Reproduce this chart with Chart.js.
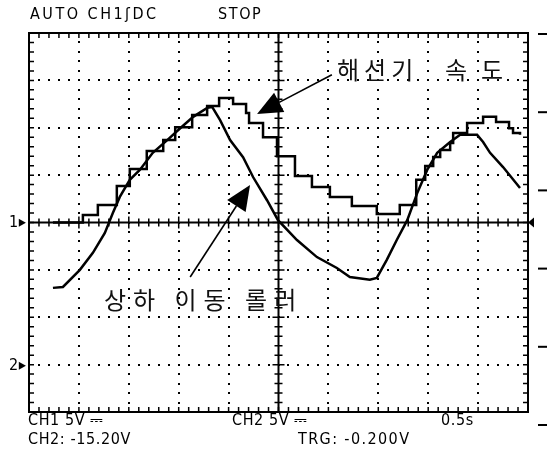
<!DOCTYPE html>
<html>
<head>
<meta charset="utf-8">
<script src="https://cdn.jsdelivr.net/npm/chart.js@4.4.0/dist/chart.umd.min.js"></script>
<style>
  body { margin: 0; background: #fff; }
  #wrap { position: relative; width: 550px; height: 462px; }
  .lbl { position: absolute; white-space: pre; color: #000; line-height: 1; letter-spacing: 0.6px;
         font-family: "DejaVu Sans Condensed", "DejaVu Sans", sans-serif; font-size: 16px; }
  .kr { position: absolute; white-space: pre; color: #111; line-height: 1;
        font-family: "Noto Sans CJK KR", sans-serif; font-size: 24px; letter-spacing: 7px; }
</style>
</head>
<body>
<div id="wrap">
  <canvas id="scope" width="550" height="462"></canvas>
  <div class="lbl" style="left:30px;top:6px;letter-spacing:2.5px">AUTO CH1ʃDC</div>
  <div class="lbl" style="left:218px;top:6px;letter-spacing:1.6px">STOP</div>
  <div class="lbl" style="left:28px;top:412px">CH1 5V ⎓</div>
  <div class="lbl" style="left:232px;top:412px">CH2 5V ⎓</div>
  <div class="lbl" style="left:441px;top:412px">0.5s</div>
  <div class="lbl" style="left:28px;top:431px">CH2: -15.20V</div>
  <div class="lbl" style="left:298px;top:431px;letter-spacing:1.4px">TRG: -0.200V</div>
  <div class="lbl" style="left:9px;top:214px">1▸</div>
  <div class="lbl" style="left:9px;top:357px">2▸</div>
  <div class="kr" style="left:337px;top:57px;letter-spacing:5px">해선기</div>
  <div class="kr" style="left:445px;top:57px;letter-spacing:14px">속도</div>
  <div class="kr" style="left:104px;top:287px">상하 이동 롤러</div>
</div>
<script>
// grid is 10 x 8 divisions, values are in divisions
const speedX = [0.48, 1.08, 1.38, 1.76, 2.02, 2.36, 2.69, 2.93, 3.27, 3.57, 3.81, 4.09, 4.35, 4.41, 4.69, 4.97,
  5.33, 5.67, 6.03, 6.47, 6.97, 7.43, 7.76, 7.94, 8.10, 8.24, 8.44, 8.50, 8.78, 9.10, 9.36, 9.62, 9.70, 9.84];
const speedY = [0.0, 0.16, 0.37, 0.77, 1.13, 1.51, 1.74, 2.01, 2.27, 2.46, 2.63, 2.50, 2.31, 2.10, 1.80, 1.40,
  0.98, 0.75, 0.54, 0.35, 0.18, 0.37, 0.90, 1.19, 1.38, 1.53, 1.68, 1.89, 2.10, 2.23, 2.12, 1.99, 1.89, 1.85];

const rollerX = [0.48, 0.68, 1.02, 1.28, 1.52, 1.68, 1.82, 2.02, 2.22, 2.48, 2.77, 3.03, 3.29, 3.57, 3.67, 3.83,
  4.03, 4.29, 4.49, 4.77, 4.99, 5.37, 5.77, 6.17, 6.43, 6.83, 6.97, 7.17, 7.37, 7.58, 7.78, 7.98, 8.18, 8.44,
  8.64, 8.98, 9.10, 9.24, 9.50, 9.84];
const rollerY = [-1.38, -1.36, -1.00, -0.64, -0.22, 0.20, 0.54, 0.90, 1.11, 1.47, 1.74, 1.99, 2.23, 2.42, 2.44, 2.16,
  1.74, 1.38, 0.96, 0.47, 0.05, -0.37, -0.73, -0.96, -1.15, -1.21, -1.17, -0.79, -0.37, 0.05, 0.62, 1.11, 1.47, 1.70,
  1.85, 1.85, 1.70, 1.47, 1.17, 0.73];

// annotation arrows: [tailX, tailY, tipX, tipY]
const arrowSpeed = [6.07, 3.12, 4.57, 2.29];
const arrowRoller = [3.23, -1.15, 4.43, 0.79];

const toPts = (xs, ys) => xs.map((x, i) => ({ x: x, y: ys[i] }));

// draws the scope screen: dotted grid, border ticks, centre axes, markers
const scopeGrid = {
  id: 'scopeGrid',
  beforeDatasetsDraw(chart) {
    const c = chart.ctx, a = chart.chartArea;
    const xs = chart.scales.x, ys = chart.scales.y;
    c.save();
    c.fillStyle = '#000';
    // dotted grid
    for (let gx = 1; gx < 10; gx++) {
      if (gx === 5) continue;
      for (let t = -20; t <= 20; t++) {
        c.fillRect(Math.round(xs.getPixelForValue(gx)) - 1, Math.round(ys.getPixelForValue(t / 5)) - 1, 2, 2);
      }
    }
    for (let gy = -3; gy <= 3; gy++) {
      if (gy === 0) continue;
      for (let t = 0; t <= 50; t++) {
        c.fillRect(Math.round(xs.getPixelForValue(t / 5)) - 1, Math.round(ys.getPixelForValue(gy)) - 1, 2, 2);
      }
    }
    c.strokeStyle = '#000';
    c.lineWidth = 2;
    c.strokeRect(a.left, a.top, a.right - a.left, a.bottom - a.top);
    // inward border ticks + centre axis ticks
    c.lineWidth = 1.5;
    c.beginPath();
    for (let t = 0; t <= 50; t++) {
      const px = xs.getPixelForValue(t / 5);
      c.moveTo(px, a.top); c.lineTo(px, a.top + 5);
      c.moveTo(px, a.bottom); c.lineTo(px, a.bottom - 5);
      const len = t % 5 === 0 ? 6 : 4;
      const cy = ys.getPixelForValue(0);
      c.moveTo(px, cy - len); c.lineTo(px, cy + len);
    }
    for (let t = -20; t <= 20; t++) {
      const py = ys.getPixelForValue(t / 5);
      c.moveTo(a.left, py); c.lineTo(a.left + 5, py);
      c.moveTo(a.right, py); c.lineTo(a.right - 5, py);
      const len = t % 5 === 0 ? 6 : 4;
      const cx = xs.getPixelForValue(5);
      c.moveTo(cx - len, py); c.lineTo(cx + len, py);
    }
    c.stroke();
    c.lineWidth = 2;
    c.beginPath();
    c.moveTo(a.left, ys.getPixelForValue(0)); c.lineTo(a.right, ys.getPixelForValue(0));
    c.moveTo(xs.getPixelForValue(5), a.top); c.lineTo(xs.getPixelForValue(5), a.bottom);
    c.stroke();
    // trigger marker at right end of centre axis
    const cy0 = ys.getPixelForValue(0);
    c.beginPath();
    c.moveTo(a.right, cy0); c.lineTo(a.right + 6, cy0 - 5); c.lineTo(a.right + 6, cy0 + 5);
    c.closePath(); c.fill();
    // short dashes to the right of the screen
    for (let i = 0; i < 6; i++) {
      const py = a.top + 1 + i * 78.2;
      c.fillRect(a.right + 10, py - 1, 9, 2);
    }
    c.restore();
  },
  afterDatasetsDraw(chart) {
    const c = chart.ctx;
    const xs = chart.scales.x, ys = chart.scales.y;
    c.save();
    c.strokeStyle = '#000';
    c.fillStyle = '#000';
    c.lineWidth = 1.6;
    [arrowSpeed, arrowRoller].forEach(ar => {
      const x0 = xs.getPixelForValue(ar[0]), y0 = ys.getPixelForValue(ar[1]);
      const x1 = xs.getPixelForValue(ar[2]), y1 = ys.getPixelForValue(ar[3]);
      const ang = Math.atan2(y1 - y0, x1 - x0);
      const hl = 25, hw = 11;
      const bx = x1 - hl * Math.cos(ang), by = y1 - hl * Math.sin(ang);
      c.beginPath(); c.moveTo(x0, y0); c.lineTo(bx, by); c.stroke();
      c.beginPath();
      c.moveTo(x1, y1);
      c.lineTo(bx + hw * Math.sin(ang), by - hw * Math.cos(ang));
      c.lineTo(bx - hw * Math.sin(ang), by + hw * Math.cos(ang));
      c.closePath(); c.fill();
    });
    c.restore();
  }
};

new Chart(document.getElementById('scope').getContext('2d'), {
  type: 'line',
  data: {
    datasets: [
      { label: '해선기 속도', data: toPts(speedX, speedY), stepped: true,
        borderColor: '#000', borderWidth: 2.5, pointRadius: 0, fill: false },
      { label: '상하 이동 롤러', data: toPts(rollerX, rollerY), tension: 0,
        borderColor: '#000', borderWidth: 2.5, pointRadius: 0, fill: false }
    ]
  },
  options: {
    responsive: false,
    animation: false,
    layout: { padding: { left: 29, right: 22, top: 33, bottom: 50 } },
    plugins: { legend: { display: false }, tooltip: { enabled: false } },
    scales: {
      x: { type: 'linear', min: 0, max: 10, display: false },
      y: { type: 'linear', min: -4, max: 4, display: false }
    }
  },
  plugins: [scopeGrid]
});
</script>
</body>
</html>
